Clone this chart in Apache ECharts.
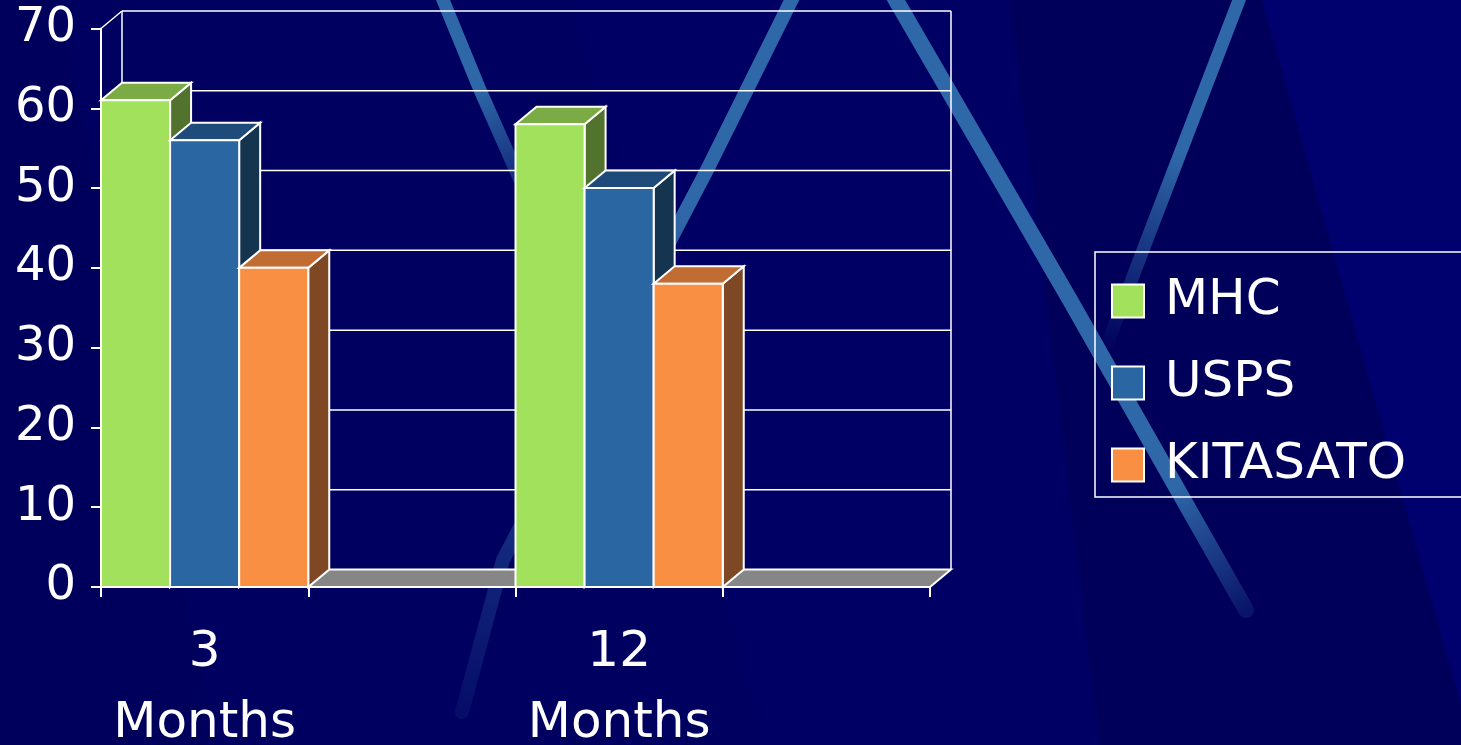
<!DOCTYPE html>
<html>
<head>
<meta charset="utf-8">
<script src="https://cdn.jsdelivr.net/npm/echarts@6/dist/echarts.min.js"></script>
<style>
  html, body { margin: 0; padding: 0; background: #000060; }
  #chart { width: 1461px; height: 745px; }
</style>
</head>
<body>
<div id="chart"></div>
<script>
const categories = ['3\nMonths', '', '12\nMonths', '']
const seriesNames = ['MHC', 'USPS', 'KITASATO']
const mhc = [61, null, 58, null]
const usps = [56, null, 50, null]
const kitasato = [40, null, 38, null]
const yTicks = [0, 10, 20, 30, 40, 50, 60, 70]

// front / top / side colour of each 3D bar
const palette = [
  { front: '#a1e15b', top: '#7aab44', side: '#52732e' },
  { front: '#2966a2', top: '#1f4b7a', side: '#14344f' },
  { front: '#f98f43', top: '#c06c32', side: '#7d4823' },
]
// depth of the fake 3D box
const DX = 21
const DY = -17.5
const FONT = 'DejaVu Sans'

const chart = echarts.init(document.getElementById('chart'))

/** 画一根立体柱子 */
function barRenderer(index) {
  const c = palette[index]
  return function (params, api) {
    const v = api.value(1)
    if (v == null || isNaN(v)) return null
    const idx = api.value(0)
    const base = api.coord([idx, 0])
    const top = api.coord([idx, v])
    const band = api.size([1, 0])[0]
    const w = band / 3
    const x0 = base[0] - band / 2 + index * w
    const x1 = x0 + w
    const y0 = base[1]
    const y1 = top[1]
    const edge = { stroke: '#fff', lineWidth: 2 }
    return {
      type: 'group',
      children: [
        {
          type: 'polygon',
          shape: { points: [[x1, y1], [x1 + DX, y1 + DY], [x1 + DX, y0 + DY], [x1, y0]] },
          style: { fill: c.side, ...edge },
        },
        {
          type: 'polygon',
          shape: { points: [[x0, y1], [x1, y1], [x1 + DX, y1 + DY], [x0 + DX, y1 + DY]] },
          style: { fill: c.top, ...edge },
        },
        {
          type: 'rect',
          shape: { x: x0, y: y1, width: w, height: y0 - y1 },
          style: { fill: c.front, ...edge },
        },
      ],
    }
  }
}

/** 背板、侧板网格和底板 */
function renderWall(params, api) {
  const v = api.value(1)
  const cs = params.coordSys
  const xL = cs.x
  const xR = cs.x + cs.width
  const y = api.coord([0, v])[1]
  const y0 = api.coord([0, 0])[1]
  const line = { stroke: '#fff', lineWidth: 1.5 }
  const children = []
  if (v === 0) {
    children.push({
      type: 'polygon',
      shape: { points: [[xL, y], [xR, y], [xR + DX, y + DY], [xL + DX, y + DY]] },
      style: { fill: '#868686', stroke: '#fff', lineWidth: 2 },
    })
  } else {
    children.push({ type: 'line', shape: { x1: xL + DX, y1: y + DY, x2: xR + DX, y2: y + DY }, style: line })
    children.push({ type: 'line', shape: { x1: xL, y1: y, x2: xL + DX, y2: y + DY }, style: line })
  }
  if (v === yTicks[yTicks.length - 1]) {
    children.push({ type: 'line', shape: { x1: xL + DX, y1: y + DY, x2: xL + DX, y2: y0 + DY }, style: line })
    children.push({ type: 'line', shape: { x1: xR + DX, y1: y + DY, x2: xR + DX, y2: y0 + DY }, style: line })
  }
  return { type: 'group', children }
}

// background light streaks
function streak(points, width, from, to, fade) {
  const a = points[0]
  const b = points[points.length - 1]
  return {
    type: 'polyline',
    z: -10,
    silent: true,
    shape: { points },
    style: {
      lineWidth: width,
      lineCap: 'round',
      stroke: {
        type: 'linear', global: true,
        x: a[0], y: a[1], x2: b[0], y2: b[1],
        colorStops: [
          { offset: 0, color: from },
          { offset: fade, color: from },
          { offset: 1, color: to },
        ],
      },
    },
  }
}

const background = [
  { type: 'polygon', z: -20, silent: true, shape: { points: [[0, 0], [56, 0], [217, 745], [0, 745]] }, style: { fill: '#00005c' } },
  { type: 'polygon', z: -20, silent: true, shape: { points: [[571, 0], [1010, 0], [1100, 745], [763, 745]] }, style: { fill: '#000064' } },
  { type: 'polygon', z: -20, silent: true, shape: { points: [[1010, 0], [1262, 0], [1461, 705], [1461, 745], [1100, 745]] }, style: { fill: '#00005a' } },
  { type: 'polygon', z: -20, silent: true, shape: { points: [[1262, 0], [1461, 0], [1461, 705]] }, style: { fill: '#00006e' } },
  streak([[441, -5], [480, 90], [520, 180]], 13, '#2f68a8', 'rgba(47,104,168,0.4)', 0.5),
  streak([[794, -5], [707, 170], [597, 380], [503, 560], [462, 712]], 14, '#2f68a8', 'rgba(47,104,168,0.12)', 0.3),
  streak([[893, -5], [1070, 300], [1246, 610]], 16, '#2f68a8', 'rgba(47,104,168,0.2)', 0.8),
  streak([[1241, -5], [1143, 250], [1105, 350]], 13, '#2f68a8', 'rgba(47,104,168,0)', 0.45),
]

const seriesData = [mhc, usps, kitasato]

const option = {
  backgroundColor: '#000060',
  animation: false,
  graphic: { elements: background },
  grid: { left: 101, top: 28.5, width: 829, height: 558.5, outerBoundsMode: 'none' },
  legend: {
    orient: 'vertical',
    left: 1095,
    top: 252,
    padding: [24, 200, 7, 16],
    borderColor: '#fff',
    borderWidth: 1.5,
    icon: 'rect',
    itemWidth: 32,
    itemHeight: 33,
    itemGap: 32,
    formatter: (name) => ' ' + name,
    textStyle: { color: '#fff', fontSize: 50, fontFamily: FONT },
    data: seriesNames.map((name, i) => ({
      name,
      itemStyle: { color: palette[i].front, borderColor: '#fff', borderWidth: 2 },
    })),
  },
  xAxis: {
    type: 'category',
    data: categories,
    boundaryGap: true,
    axisLine: { show: true, lineStyle: { color: '#fff', width: 2 } },
    axisTick: { show: true, interval: 0, length: 10, lineStyle: { color: '#fff', width: 2 } },
    axisLabel: {
      interval: 0,
      color: '#fff',
      fontSize: 50,
      fontFamily: FONT,
      lineHeight: 71,
      margin: 31,
    },
    splitLine: { show: false },
  },
  yAxis: {
    type: 'value',
    min: 0,
    max: 70,
    interval: 10,
    axisLine: { show: true, lineStyle: { color: '#fff', width: 2 } },
    axisTick: { show: true, length: 10, lineStyle: { color: '#fff', width: 2 } },
    axisLabel: { color: '#fff', fontSize: 48, fontFamily: FONT, margin: 25 },
    splitLine: { show: false },
  },
  series: [
    {
      name: 'wall',
      type: 'custom',
      silent: true,
      renderItem: renderWall,
      encode: { x: 0, y: 1 },
      data: yTicks.map((v) => [0, v]),
    },
    ...seriesNames.map((name, i) => ({
      name,
      type: 'custom',
      renderItem: barRenderer(i),
      itemStyle: { color: palette[i].front },
      encode: { x: 0, y: 1 },
      data: categories.map((c, k) => [k, seriesData[i][k] == null ? '-' : seriesData[i][k]]),
    })),
  ],
}

chart.setOption(option)
</script>
</body>
</html>
